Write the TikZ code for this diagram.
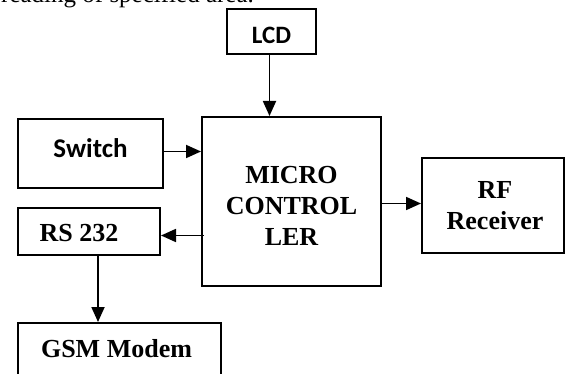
\documentclass[tikz,border=0pt]{standalone}
\usepackage{fontspec}
\setmainfont{Liberation Serif}
\newfontfamily\calib{Carlito}
\usetikzlibrary{arrows.meta}
\begin{document}
\begin{tikzpicture}[x=1pt,y=-1pt,
  blk/.style={draw,line width=2pt,inner sep=0pt,anchor=north west},
  serif/.style={font=\fontsize{26}{31}\selectfont\bfseries,align=center},
  sans/.style={font=\fontsize{25}{30}\selectfont\calib\bfseries},
  arr/.style={line width=1.8pt,-{Triangle[length=15pt,width=13pt]}}]
\clip (0,0) rectangle (565,374);
% partial line of text cut at the top
\node[anchor=base west,inner sep=0pt,font=\fontsize{25}{30}\selectfont] (txt) at (1,3) {reading of specified area.};
% boxes
\node[blk,minimum width=89pt,minimum height=45pt,label={[sans,yshift=-4pt]center:LCD}] (lcd) at (226,8) {};
\node[blk,minimum width=179pt,minimum height=169pt,label={[serif,yshift=-4pt]center:MICRO\\CONTROL\\LER}] (micro) at (201,116) {};
\node[blk,minimum width=145pt,minimum height=69pt,label={[sans,font=\fontsize{27}{30}\selectfont\calib\bfseries,yshift=5pt]center:Switch}] (sw) at (17,118) {};
\node[blk,minimum width=142pt,minimum height=47pt,label={[serif,xshift=-10pt,yshift=-2pt]center:RS 232}] (rs) at (17,207) {};
\node[blk,minimum width=142pt,minimum height=95pt,label={[serif,xshift=2pt]center:RF\\Receiver}] (rf) at (421,157) {};
\node[blk,minimum width=203pt,minimum height=70pt,label={[serif,xshift=-3pt,yshift=9pt]center:GSM Modem}] (gsm) at (17,322) {};
% connectors
\draw[arr] ([xshift=-2pt]lcd.south) -- ([xshift=-2pt]lcd.south |- micro.north);
\draw[arr] ([yshift=2pt]sw.east) -- ([yshift=2pt]sw.east -| micro.west);
\draw[arr] ([xshift=3pt,yshift=-4pt]rs.east -| micro.west) -- ([yshift=-4pt]rs.east);
\draw[arr] ([yshift=2pt]micro.east |- rf.west) -- ([yshift=2pt]rf.west);
\draw[arr] ([xshift=9pt]rs.south) -- ([xshift=9pt]rs.south |- gsm.north);
\end{tikzpicture}
\end{document}
